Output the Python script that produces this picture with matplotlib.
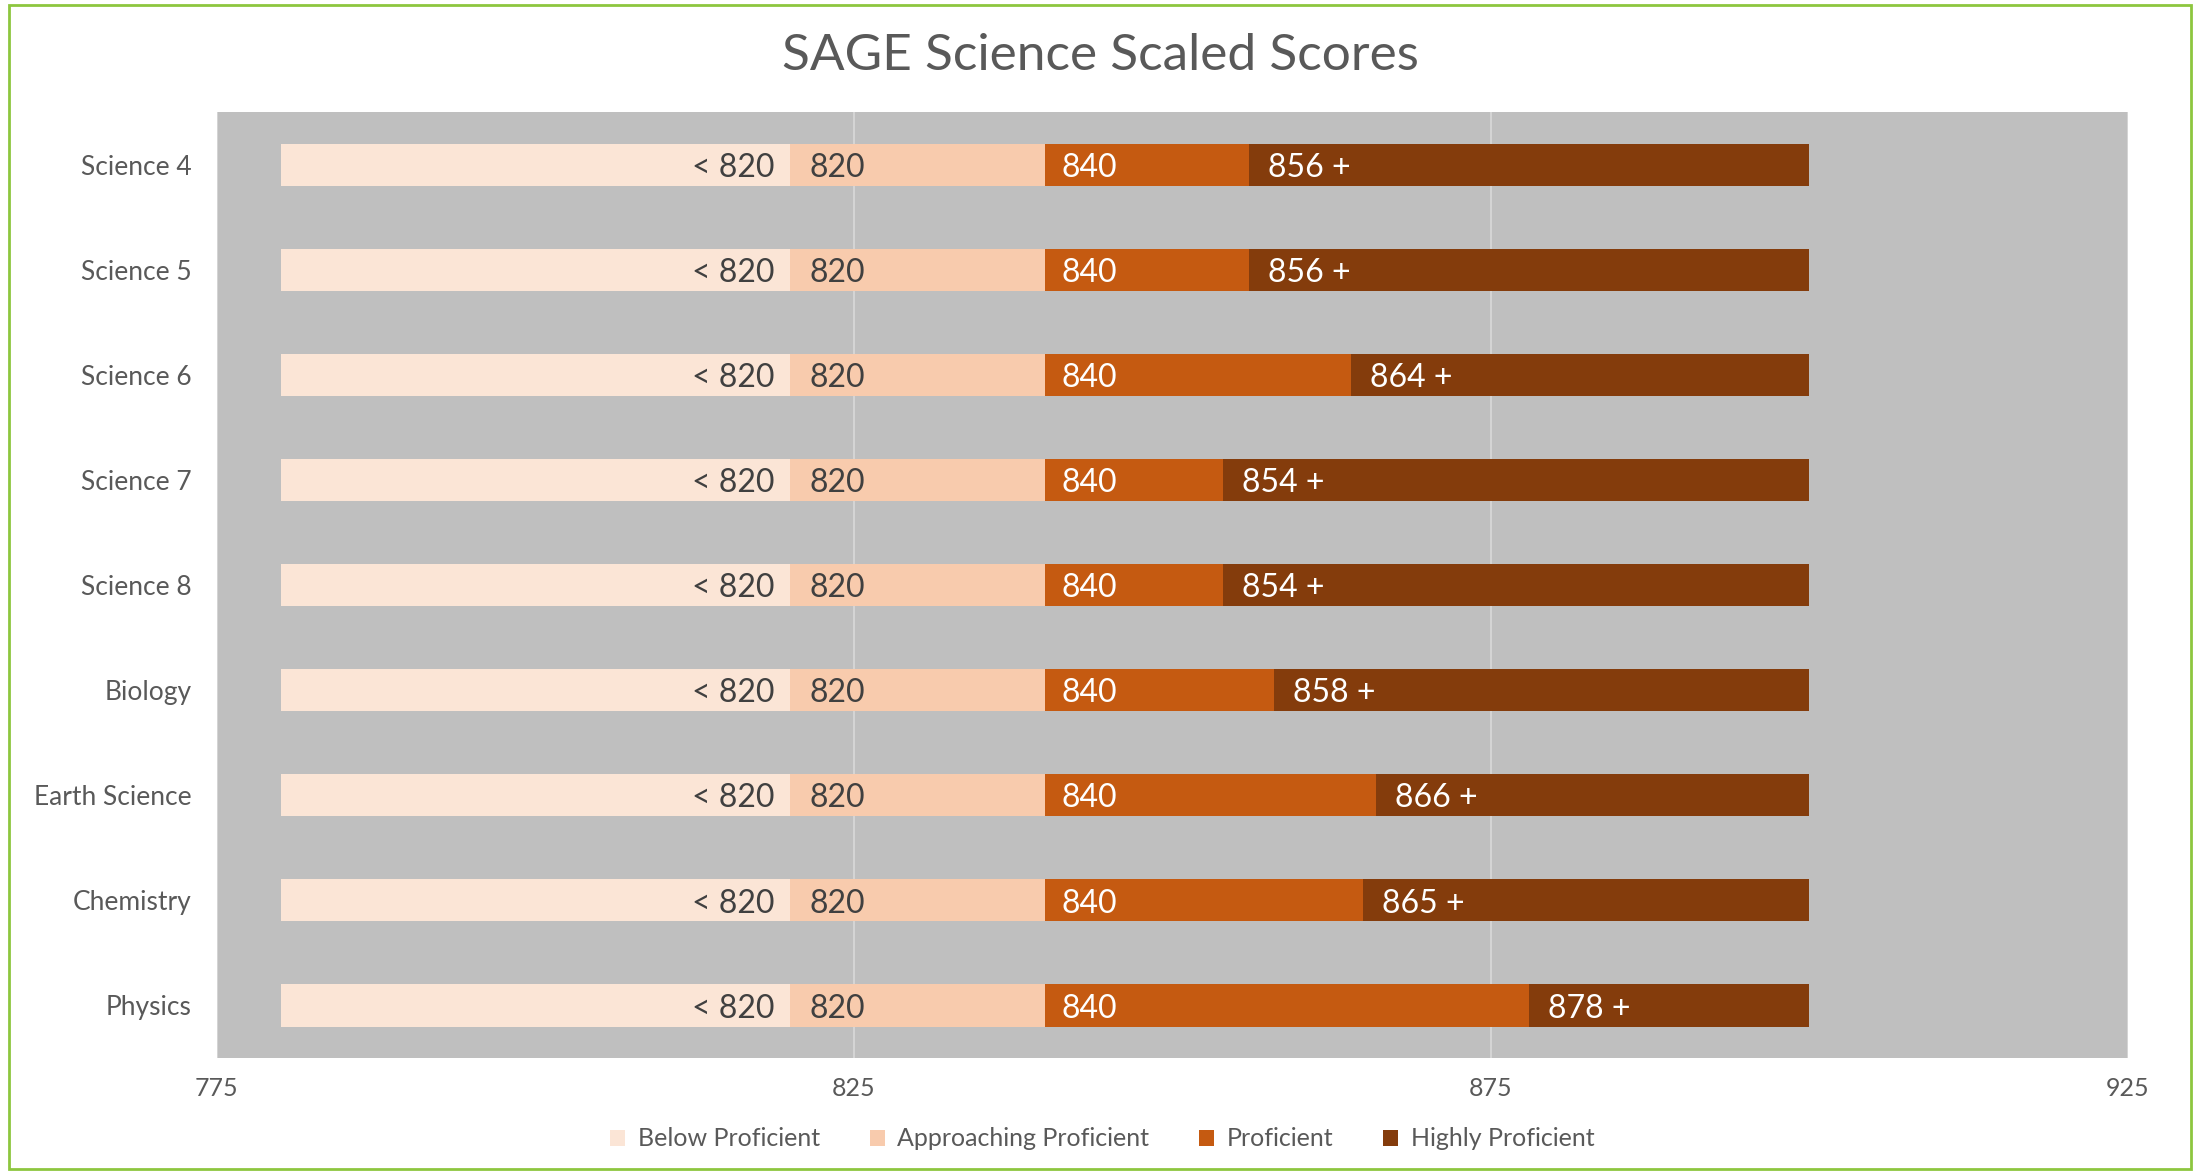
import numpy as np
import matplotlib.pyplot as plt
from matplotlib.patches import Rectangle

plt.rcParams['font.family'] = ['Lato', 'DejaVu Sans']

# data
subjects = ['Science 4', 'Science 5', 'Science 6', 'Science 7', 'Science 8',
            'Biology', 'Earth Science', 'Chemistry', 'Physics']
scale_min = [780] * 9
approaching_cut = [820] * 9
proficient_cut = [840] * 9
highly_cut = [856, 856, 864, 854, 854, 858, 866, 865, 878]
scale_max = [900] * 9

levels = ['Below Proficient', 'Approaching Proficient', 'Proficient', 'Highly Proficient']
colors = ['#FBE5D6', '#F8CBAD', '#C55A11', '#843C0C']
label_colors = ['#404040', '#404040', 'white', 'white']

starts = np.array([scale_min, approaching_cut, proficient_cut, highly_cut])
ends = np.array([approaching_cut, proficient_cut, highly_cut, scale_max])

fig = plt.figure(figsize=(22, 11.73), dpi=100)
ax = fig.add_axes([0.0986, 0.098, 0.8685, 0.8065])
ax.set_facecolor('#BFBFBF')

y = np.arange(len(subjects))
for i in range(4):
    ax.barh(y, ends[i] - starts[i], left=starts[i], height=0.4,
            color=colors[i], label=levels[i], zorder=3)

fs = 23
dy = 0.03  # labels sit a touch below the bar centre
for j in range(len(subjects)):
    ax.text(approaching_cut[j] - 1.2, y[j] + dy, '< %d' % approaching_cut[j],
            ha='right', va='center', fontsize=fs, color=label_colors[0], zorder=4)
    ax.text(approaching_cut[j] + 1.5, y[j] + dy, '%d' % approaching_cut[j],
            ha='left', va='center', fontsize=fs, color=label_colors[1], zorder=4)
    ax.text(proficient_cut[j] + 1.3, y[j] + dy, '%d' % proficient_cut[j],
            ha='left', va='center', fontsize=fs, color=label_colors[2], zorder=4)
    ax.text(highly_cut[j] + 1.5, y[j] + dy, '%d +' % highly_cut[j],
            ha='left', va='center', fontsize=fs, color=label_colors[3], zorder=4)

ax.set_xlim(775, 925)
ax.set_ylim(len(subjects) - 0.5, -0.5)
ax.set_xticks([775, 825, 875, 925])
ax.set_yticks(y)
ax.set_yticklabels(subjects)
ax.tick_params(axis='both', length=0, colors='#595959')
ax.tick_params(axis='x', pad=14, labelsize=18)
ax.tick_params(axis='y', pad=18, labelsize=19)
ax.grid(axis='x', color='#D9D9D9', linewidth=1.2, zorder=1)
for s in ax.spines.values():
    s.set_visible(False)

fig.suptitle('SAGE Science Scaled Scores', y=0.972, fontsize=37, color='#595959')

fig.legend(loc='center', bbox_to_anchor=(0.501, 0.029), ncol=4, frameon=False,
           fontsize=18, labelcolor='#595959', handlelength=0.6, handleheight=0.6,
           handletextpad=0.5, columnspacing=2.0)

fig.patches.append(Rectangle((0.004, 0.003), 0.992, 0.993, transform=fig.transFigure,
                             fill=False, edgecolor='#8DC63F', linewidth=2))

fig.savefig('out.png', dpi=100)
